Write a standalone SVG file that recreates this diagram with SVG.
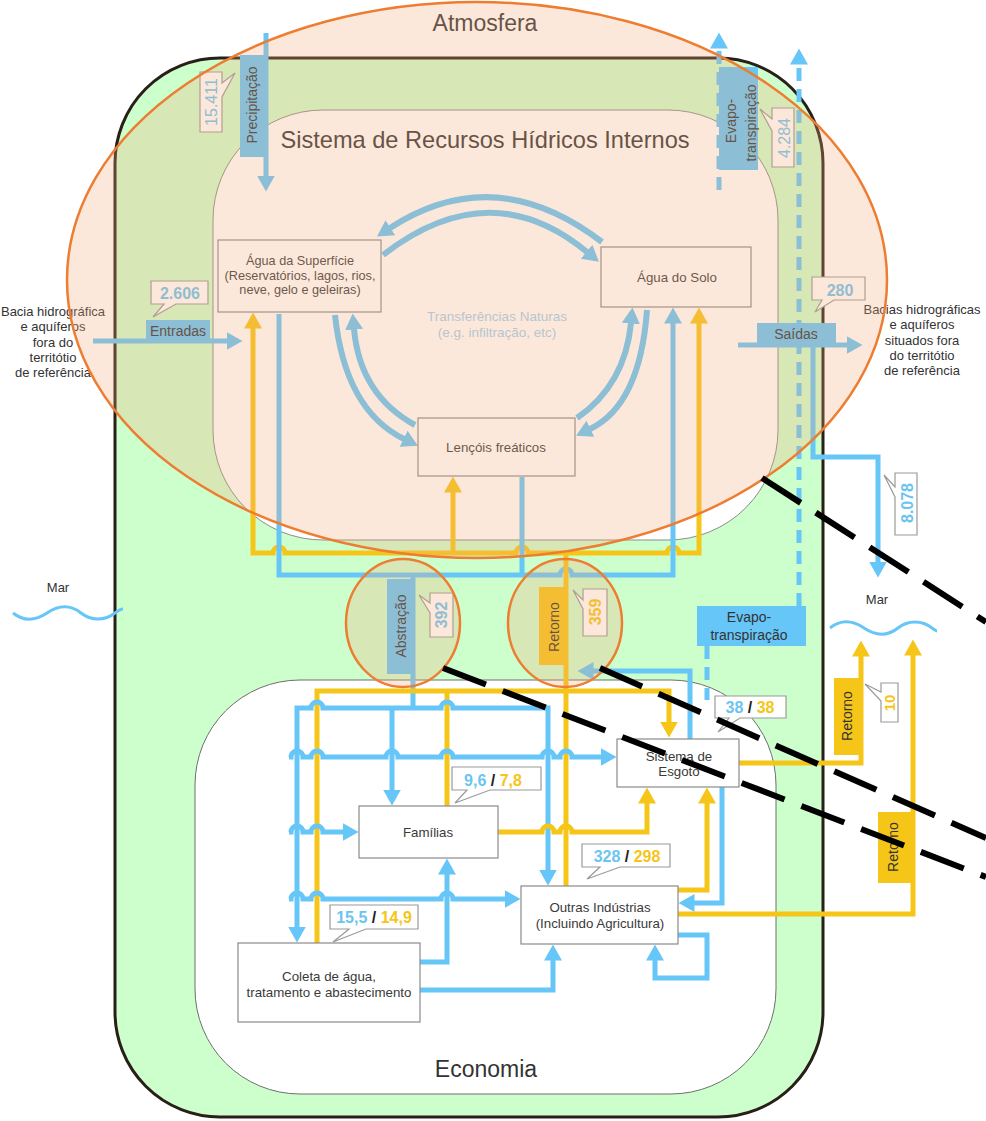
<svg xmlns="http://www.w3.org/2000/svg" width="986" height="1121" viewBox="0 0 986 1121">
<defs>
<marker id="ab" markerUnits="userSpaceOnUse" markerWidth="16" markerHeight="18" viewBox="0 0 16 18" refX="0.5" refY="9" orient="auto-start-reverse"><path d="M0,0 L16,9 L0,18 Z" fill="#66c6f7"/></marker>
<marker id="ay" markerUnits="userSpaceOnUse" markerWidth="16" markerHeight="18" viewBox="0 0 16 18" refX="0.5" refY="9" orient="auto-start-reverse"><path d="M0,0 L16,9 L0,18 Z" fill="#f5c518"/></marker>
<style>
text{font-family:'Liberation Sans',Arial,sans-serif;fill:#333}
.t{text-anchor:middle}
.title{font-size:23px;text-anchor:middle;fill:#333}
.nt{font-size:13.3px;text-anchor:middle;fill:#3a3a3a}
.tag{font-size:14px;text-anchor:middle;fill:#333}
.side{font-size:13px;text-anchor:middle;fill:#333}
.bl{stroke:#66c6f7;stroke-width:5;fill:none}
.yl{stroke:#f5c518;stroke-width:5;fill:none}
.arc{stroke:#66c6f7;stroke-width:6;fill:none}
.dash{stroke-dasharray:13 8}
.mb{marker-end:url(#ab)}
.my{marker-end:url(#ay)}
.node rect{fill:#fff;stroke:#8a8a8a;stroke-width:1.2}
.call{fill:#fff;stroke:#9a9a9a;stroke-width:1.2}
.num{font-size:16px;font-weight:bold;text-anchor:middle}
.bn{fill:#6cc4f0}
.yn{fill:#f5c518}
.kn{fill:#222}
.tb{fill:#66c6f7}
.ty{fill:#f5c518}
.blk{stroke:#000;stroke-width:6;stroke-dasharray:46 18;fill:none}
</style>
</defs>
<rect width="986" height="1121" fill="#fff"/>
<g id="frames">
<rect id="ambiente" x="115" y="58" width="708" height="1059" rx="105" fill="#ccffcc" stroke="#2a1f18" stroke-width="3"/>
<rect id="sistema" x="213" y="110" width="565" height="430" rx="110" fill="#fff" stroke="#8c8c8c" stroke-width="1"/>
<rect id="economia" x="195" y="680" width="581" height="414" rx="105" fill="#fff" stroke="#6e6e6e" stroke-width="1"/>
<text class="title" x="485" y="31">Atmosfera</text>
<text class="title" x="485" y="148" style="font-size:23.6px">Sistema de Recursos Hídricos Internos</text>
<text class="title" x="486" y="1077">Economia</text>
<text class="t" x="497" y="321" style="font-size:13.5px;fill:#9fd0ee">Transferências Naturas</text>
<text class="t" x="497" y="337" style="font-size:13.5px;fill:#9fd0ee">(e.g. infiltração, etc)</text>
</g>
<g id="connectors">
<path class="arc mb" d="M602,242 Q495,160 390,228"/>
<path class="arc mb" d="M383,255 Q490,172 587,252"/>
<path class="arc mb" d="M335,315 Q345,410 404,439"/>
<path class="arc mb" d="M415,425 Q360,395 354,329"/>
<path class="arc mb" d="M647,310 Q640,405 590,429"/>
<path class="arc mb" d="M577,418 Q625,385 631,323"/>
<path class="bl mb" d="M266,33 V176"/>
<path class="bl mb" d="M93,341 H227"/>
<path class="bl mb" d="M738,345 H847"/>
<path class="bl mb" d="M813,345 V457 H878 V562"/>
<path class="bl mb dash" d="M719,190 V48"/>
<path class="bl mb dash" d="M799,606 V64"/>
<path class="bl dash" d="M707,646 V700"/>
<path class="yl my" style="marker-start:url(#ay)" d="M253,328 V553 H273 a6,6 0 0 1 12,0 H516 a6,6 0 0 1 12,0 H667 a6,6 0 0 1 12,0 H699 V323"/>
<path class="yl my" d="M453,553 V492"/>
<path class="bl mb" d="M279,314 V575 H560 a6,6 0 0 1 12,0 H673 V323"/>
<path class="bl" d="M522,477 V575"/>
<path class="bl" d="M413,575 V708"/>
<path class="yl" d="M566,553 V886"/>
<path class="yl my" d="M317,945 V691 H669 V722"/>
<path class="yl" d="M447,691 V806"/>
<path class="bl mb" style="marker-start:url(#ab)" d="M297,927 V708 H311 a6,6 0 0 1 12,0 H441 a6,6 0 0 1 12,0 H548 V870"/>
<path class="bl mb" d="M392,708 V790"/>
<path class="bl mb" d="M289,757 H291 a6,6 0 0 1 12,0 H311 a6,6 0 0 1 12,0 H386 a6,6 0 0 1 12,0 H441 a6,6 0 0 1 12,0 H542 a6,6 0 0 1 12,0 H560 a6,6 0 0 1 12,0 H601"/>
<path class="bl mb" d="M289,832 H291 a6,6 0 0 1 12,0 H311 a6,6 0 0 1 12,0 H343"/>
<path class="bl mb" d="M289,899 H291 a6,6 0 0 1 12,0 H311 a6,6 0 0 1 12,0 H441 a6,6 0 0 1 12,0 H505"/>
<path class="bl mb" d="M420,962 H447 V874"/>
<path class="bl mb" d="M420,990 H553 V960"/>
<path class="bl mb" d="M678,935 H707 V978 H655 V960"/>
<path class="bl mb" d="M722,787 V903 H694"/>
<path class="bl mb" d="M690,739 V671 H593"/>
<path class="yl my" d="M498,832 H542 a6,6 0 0 1 12,0 H560 a6,6 0 0 1 12,0 H647 V803"/>
<path class="yl my" d="M678,890 H707 V803"/>
<path class="yl my" d="M739,763 H861 V656"/>
<path class="yl my" d="M678,914 H913 V655"/>
<path d="M13,613 c10,8 22,8 34,0 s24,-8 34,0 s24,8 34,0 c4,-3 6,-4 8,-4" stroke="#66c6f7" stroke-width="3" fill="none"/>
<path d="M830,628 c10,-8 22,-8 34,0 s24,8 34,0 s24,-8 34,0 c3,2 4,3 5,3" stroke="#66c6f7" stroke-width="3" fill="none"/>
</g>
<g id="labels">
<rect class="tb" x="240" y="55" width="27" height="102"/>
<text class="tag" transform="translate(252,105) rotate(-90)" dy="0.35em">Precipitação</text>
<rect class="tb" x="719" y="67" width="39" height="103"/>
<text class="tag" transform="translate(731,121) rotate(-90)" dy="0.35em">Evapo-</text>
<text class="tag" transform="translate(751,123) rotate(-90)" dy="0.35em">transpiração</text>
<rect class="tb" x="146" y="320" width="64" height="21"/>
<text class="tag" x="178" y="336">Entradas</text>
<rect class="tb" x="757" y="323" width="79" height="22"/>
<text class="tag" x="796" y="339">Saídas</text>
<rect class="tb" x="387" y="579" width="28" height="95"/>
<text class="tag" transform="translate(401,626) rotate(-90)" dy="0.35em">Abstração</text>
<rect class="ty" x="539" y="587" width="28" height="78"/>
<text class="tag" transform="translate(554,627) rotate(-90)" dy="0.35em">Retorno</text>
<rect class="tb" x="697" y="606" width="109" height="40"/>
<text class="tag" x="749" y="622">Evapo-</text>
<text class="tag" x="749" y="640">transpiração</text>
<rect class="ty" x="834" y="678" width="27" height="77"/>
<text class="tag" transform="translate(847,716) rotate(-90)" dy="0.35em">Retorno</text>
<rect class="ty" x="878" y="812" width="33" height="71"/>
<text class="tag" transform="translate(893,847) rotate(-90)" dy="0.35em">Retorno</text>
</g>
<g id="node-agua-superficie" class="node">
<rect x="218" y="240" width="163" height="72"/>
<text class="nt" x="300" y="265" style="font-size:12.7px">Água da Superfície</text>
<text class="nt" x="300" y="280" style="font-size:12.7px">(Reservatórios, lagos, rios,</text>
<text class="nt" x="300" y="294" style="font-size:12.7px">neve, gelo e geleiras)</text>
</g>
<g id="node-agua-solo" class="node">
<rect x="601" y="247" width="150" height="60"/>
<text class="nt" x="677" y="282">Água do Solo</text>
</g>
<g id="node-lencois" class="node">
<rect x="418" y="418" width="157" height="58"/>
<text class="nt" x="496" y="452">Lençóis freáticos</text>
</g>
<g id="node-familias" class="node">
<rect x="359" y="806" width="139" height="52"/>
<text class="nt" x="428" y="837">Famílias</text>
</g>
<g id="node-esgoto" class="node">
<rect x="617" y="739" width="122" height="48"/>
<text class="nt" x="679" y="761">Sistema de</text>
<text class="nt" x="679" y="776">Esgoto</text>
</g>
<g id="node-outras" class="node">
<rect x="521" y="886" width="157" height="58"/>
<text class="nt" x="600" y="912">Outras Indústrias</text>
<text class="nt" x="600" y="928">(Incluindo Agricultura)</text>
</g>
<g id="node-coleta" class="node">
<rect x="238" y="943" width="182" height="79"/>
<text class="nt" x="329" y="981">Coleta de água,</text>
<text class="nt" x="329" y="997">tratamento e abastecimento</text>
</g>
<g id="callouts">
<path class="call" d="M200,72 H222 V83 L235,73 L222,97 V132 H200 Z"/>
<text class="num bn" style="font-weight:normal" transform="translate(211,102) rotate(-90)" dy="0.35em">15.411</text>
<path class="call" d="M772,108 H794 V167 H772 V131 L760,109 L772,119 Z"/>
<text class="num bn" style="font-weight:normal" transform="translate(784,138) rotate(-90)" dy="0.35em">4.284</text>
<path class="call" d="M151,281 H208 V304 H176 L153,317 L164,304 H151 Z"/>
<text class="num bn" x="180" y="299">2.606</text>
<path class="call" d="M812,277 H865 V300 H834 L815,312 L822,300 H812 Z"/>
<text class="num bn" x="840" y="296">280</text>
<path class="call" d="M895,473 H917 V535 H895 V497 L884,475 L895,487 Z"/>
<text class="num bn" transform="translate(907,503) rotate(-90)" dy="0.35em">8.078</text>
<path class="call" d="M430,593 H453 V637 H430 V613 L419,595 L430,603 Z"/>
<text class="num bn" transform="translate(441,615) rotate(-90)" dy="0.35em">392</text>
<path class="call" d="M583,589 H607 V636 H583 V609 L573,590 L583,600 Z"/>
<text class="num yn" transform="translate(595,612) rotate(-90)" dy="0.35em">359</text>
<path class="call" d="M715,696 H786 V718 H740 L718,732 L729,718 H715 Z"/>
<text class="num" x="750" y="713"><tspan class="bn">38</tspan><tspan class="kn"> / </tspan><tspan class="yn">38</tspan></text>
<path class="call" d="M452,767 H541 V790 H490 L455,803 L467,790 H452 Z"/>
<text class="num" x="493" y="786"><tspan class="bn">9,6</tspan><tspan class="kn"> / </tspan><tspan class="yn">7,8</tspan></text>
<path class="call" d="M582,844 H670 V867 H620 L587,879 L600,867 H582 Z"/>
<text class="num" x="627" y="862"><tspan class="bn">328</tspan><tspan class="kn"> / </tspan><tspan class="yn">298</tspan></text>
<path class="call" d="M330,905 H418 V929 H366 L333,942 L349,929 H330 Z"/>
<text class="num" x="374" y="923"><tspan class="bn">15,5</tspan><tspan class="kn"> / </tspan><tspan class="yn">14,9</tspan></text>
<path class="call" d="M881,683 H898 V722 H881 V701 L865,684 L881,692 Z"/>
<text class="num yn" style="font-size:15px" transform="translate(890,703) rotate(-90)" dy="0.35em">10</text>
</g>
<g id="side-texts">
<text class="side" x="53" y="316">Bacia hidrográfica</text>
<text class="side" x="53" y="331">e aquíferos</text>
<text class="side" x="53" y="347">fora do</text>
<text class="side" x="53" y="362">territótio</text>
<text class="side" x="53" y="377">de referência</text>
<text class="side" x="922" y="314">Bacias hidrográficas</text>
<text class="side" x="922" y="329">e aquíferos</text>
<text class="side" x="922" y="345">situados fora</text>
<text class="side" x="922" y="360">do territótio</text>
<text class="side" x="922" y="375">de referência</text>
<text class="side" x="58" y="592">Mar</text>
<text class="side" x="877" y="604">Mar</text>
</g>
<g id="highlights">
<ellipse cx="477" cy="280" rx="410" ry="278" fill="#f4a97a" fill-opacity="0.27" stroke="#ed7d31" stroke-width="2.5"/>
<ellipse cx="403" cy="623" rx="57" ry="64" fill="#f4a97a" fill-opacity="0.27" stroke="#ed7d31" stroke-width="2.5"/>
<ellipse cx="565" cy="623" rx="57" ry="64" fill="#f4a97a" fill-opacity="0.27" stroke="#ed7d31" stroke-width="2.5"/>
<path class="blk" d="M762,478 L986,622"/>
<path class="blk" d="M443,668 L986,877"/>
<path class="blk" d="M600,668 L986,838"/>
</g>
</svg>
